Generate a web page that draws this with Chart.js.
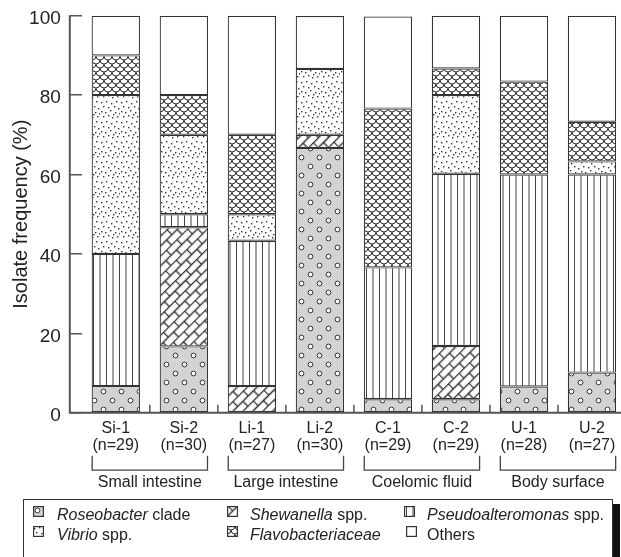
<!DOCTYPE html>
<html>
<head>
<meta charset="utf-8">
<script src="https://cdn.jsdelivr.net/npm/chart.js@4.4.1/dist/chart.umd.min.js"></script>
<style>
  html, body { margin: 0; padding: 0; background: #fff; overflow: hidden; }
  body { position: relative; width: 621px; height: 557px; font-family: "Liberation Sans", Arial, sans-serif; color: #222; }
  #wrap { position: absolute; left: 0; top: 0; width: 626px; height: 557px; }
  #legend { position: absolute; left: 23px; top: 499px; width: 588px; height: 70px; border: 1.5px solid #333; box-shadow: 7px 5px 0 #111; background: #fff; }
  .sw { position: absolute; width: 10px; height: 10px; }
  .lt { position: absolute; font-size: 16px; line-height: 20px; white-space: nowrap; }
</style>
</head>
<body>
<div id="wrap"><canvas id="canvas1"></canvas></div>
<div id="legend"></div>
<script>
var categorias = ["Si-1","Si-2","Li-1","Li-2","C-1","C-2","U-1","U-2"];
var muestras = [29,30,27,30,29,29,28,27];
var grupos = ["Small intestine","Large intestine","Coelomic fluid","Body surface"];
var yTicks = [0,20,40,60,80,100];

// % por categoria, de abajo hacia arriba
var roseobacter = [6.7, 16.7, 0, 66.7, 3.4, 3.4, 6.6, 10.1];
var shewanella = [0, 30.0, 6.7, 3.3, 0, 13.4, 0, 0];
var pseudoalt = [33.3, 3.3, 36.6, 0, 33.2, 43.4, 53.4, 49.9];
var vibrio = [40.0, 20.0, 6.7, 16.6, 0, 19.8, 0, 3.3];
var flavo = [10.0, 10.0, 20.0, 0, 40.0, 6.7, 23.4, 10.0];
var otros = [10.0, 20.0, 30.0, 13.3, 23.2, 13.3, 16.6, 26.7];

var LINEA = "#333";

function tile(w, h, dibujar)
{
    var c = document.createElement("canvas");
    c.width = w; c.height = h;
    var g = c.getContext("2d");
    dibujar(g, w, h);
    return c;
}

function patronRoseo(ctx)
{
    var t = tile(18, 18, function(g){
        g.fillStyle = "#d3d3d3";
        g.fillRect(0, 0, 18, 18);
        g.strokeStyle = LINEA;
        g.lineWidth = 1;
        [[4.5,4.5],[13.5,13.5]].forEach(function(p){
            g.beginPath();
            g.arc(p[0], p[1], 2.4, 0, Math.PI*2);
            g.fillStyle = "#fafafa";
            g.fill();
            g.stroke();
        });
    });
    return ctx.createPattern(t, "repeat");
}

function patronVibrio(ctx)
{
    var puntos = [[1,2],[6,1],[11,3],[16,1],[3,6],[8,7],[14,6],[18,8],[1,11],[5,12],[10,10],[15,12],[3,16],[8,15],[12,17],[17,16],[19,13],[13,14]];
    var t = tile(20, 20, function(g){
        g.fillStyle = "#fff";
        g.fillRect(0, 0, 20, 20);
        g.fillStyle = "#333";
        puntos.forEach(function(p){ g.fillRect(p[0], p[1], 1.4, 1.4); });
    });
    return ctx.createPattern(t, "repeat");
}

function patronShewanella(ctx)
{
    var t = tile(15, 14, function(g){
        g.fillStyle = "#fff";
        g.fillRect(0, 0, 15, 14);
        g.strokeStyle = LINEA;
        g.lineWidth = 1.4;
        g.beginPath();
        g.moveTo(0, 0.5); g.lineTo(15, 0.5);
        g.moveTo(0, 7.5); g.lineTo(15, 7.5);
        g.moveTo(0.5, 0); g.lineTo(0.5, 7.5);
        g.moveTo(8, 7.5); g.lineTo(8, 14);
        g.stroke();
    });
    var p = ctx.createPattern(t, "repeat");
    p.setTransform(new DOMMatrix().rotateSelf(-45));
    return p;
}

function patronPseudo(ctx)
{
    var t = tile(13, 10, function(g){
        g.fillStyle = "#fff";
        g.fillRect(0, 0, 13, 10);
        g.fillStyle = "#444";
        g.fillRect(2, 0, 1, 10);
        g.fillRect(8.5, 0, 1, 10);
    });
    return ctx.createPattern(t, "repeat");
}

function patronFlavo(ctx)
{
    var t = tile(8, 8, function(g){
        g.fillStyle = "#fff";
        g.fillRect(0, 0, 8, 8);
        g.strokeStyle = LINEA;
        g.lineWidth = 1;
        [[4,0],[0,4],[8,4],[4,8],[0,-4],[8,-4]].forEach(function(c){
            g.beginPath();
            g.arc(c[0], c[1], 4, 0, Math.PI);
            g.stroke();
        });
    });
    return ctx.createPattern(t, "repeat");
}

var ctx = document.getElementById("canvas1").getContext("2d");
var rellenos = {
    roseo: patronRoseo(ctx),
    shew: patronShewanella(ctx),
    pseudo: patronPseudo(ctx),
    vibrio: patronVibrio(ctx),
    flavo: patronFlavo(ctx),
    otros: "#ffffff"
};

var series = [
    {label: "Roseobacter clade", data: roseobacter, fill: rellenos.roseo},
    {label: "Shewanella spp.", data: shewanella, fill: rellenos.shew},
    {label: "Pseudoalteromonas spp.", data: pseudoalt, fill: rellenos.pseudo},
    {label: "Vibrio spp.", data: vibrio, fill: rellenos.vibrio},
    {label: "Flavobacteriaceae", data: flavo, fill: rellenos.flavo},
    {label: "Others", data: otros, fill: rellenos.otros}
];

var datasets = series.map(function(s){
    return {
        label: s.label,
        data: s.data,
        backgroundColor: s.fill,
        borderColor: LINEA,
        borderWidth: 1.2,
        borderSkipped: false,
        barPercentage: 0.71,
        categoryPercentage: 1.0
    };
});

// ejes, marcas entre categorias y llaves de grupo
var ejesPlugin = {
    id: "ejes",
    afterDatasetsDraw: function(chart)
    {
        var c = chart.ctx;
        var area = chart.chartArea;
        var x = chart.scales.x;
        var y = chart.scales.y;
        var y0 = y.getPixelForValue(0);
        var y100 = y.getPixelForValue(100);
        var ejeX = area.left - 12;
        c.save();
        c.strokeStyle = "#555";
        c.lineWidth = 2;
        c.beginPath();
        c.moveTo(ejeX, y100 - 0.5);
        c.lineTo(ejeX, y0);
        c.lineTo(area.right + 10, y0);
        c.stroke();
        c.lineWidth = 1.5;
        c.beginPath();
        for (var i = 0; i < categorias.length - 1; i++)
        {
            var bx = (x.getPixelForValue(i) + x.getPixelForValue(i + 1)) / 2;
            c.moveTo(bx, y0);
            c.lineTo(bx, y0 - 8);
        }
        c.stroke();

        var barras = chart.getDatasetMeta(0).data;
        c.strokeStyle = "#444";
        c.lineWidth = 1.3;
        c.fillStyle = "#222";
        c.font = "16px 'Liberation Sans', Arial, sans-serif";
        c.textAlign = "center";
        c.textBaseline = "middle";
        for (var g = 0; g < grupos.length; g++)
        {
            var b1 = barras[g*2], b2 = barras[g*2 + 1];
            var xa = b1.x - b1.width/2 + 0.5;
            var xb = b2.x + b2.width/2 - 0.5;
            c.beginPath();
            c.moveTo(xa, y0 + 43);
            c.lineTo(xa, y0 + 57.5);
            c.lineTo(xb, y0 + 57.5);
            c.lineTo(xb, y0 + 43);
            c.stroke();
            c.fillText(grupos[g], (b1.x + b2.x)/2, y0 + 69.5);
        }
        c.restore();
    }
};

new Chart(ctx, {
    type: "bar",
    data: {
        labels: categorias.map(function(c, i){ return [c, "(n=" + muestras[i] + ")"]; }),
        datasets: datasets
    },
    options: {
        animation: false,
        responsive: true,
        maintainAspectRatio: false,
        layout: { padding: { top: 15.7, right: 0, bottom: 0, left: 0 } },
        plugins: { legend: { display: false }, tooltip: { enabled: false } },
        scales: {
            x: {
                stacked: true,
                grid: { display: false, drawTicks: false },
                border: { display: false },
                ticks: {
                    color: "#222",
                    font: { family: "'Liberation Sans', Arial, sans-serif", size: 16, lineHeight: 1.07 },
                    padding: 7,
                    maxRotation: 0,
                    autoSkip: false
                },
                afterFit: function(s){
                    s.height = 144.3;
                    s.paddingLeft = 0; s.paddingRight = 0;
                }
            },
            y: {
                stacked: true,
                min: 0,
                max: 100,
                afterBuildTicks: function(s){ s.ticks = yTicks.map(function(v){ return {value: v}; }); },
                grid: { display: true, drawOnChartArea: false, drawTicks: true, tickLength: 12, color: "#555", lineWidth: 1.5 },
                border: { display: false },
                ticks: {
                    color: "#222",
                    font: { family: "'Liberation Sans', Arial, sans-serif", size: 19 },
                    padding: 9,
                    labelOffset: 3
                },
                title: {
                    display: true,
                    text: "Isolate frequency (%)",
                    color: "#222",
                    font: { family: "'Liberation Sans', Arial, sans-serif", size: 20 },
                    padding: { top: 9, bottom: 0 }
                },
                afterFit: function(s){
                    s.width = 81.8;
                    s.paddingTop = 0; s.paddingBottom = 0;
                }
            }
        }
    },
    plugins: [ejesPlugin]
});

// leyenda con texto en cursiva parcial
var leyenda = [
    {fill: rellenos.roseo, html: "<i>Roseobacter</i> clade", sx: 33, tx: 57, row: 0},
    {fill: rellenos.vibrio, html: "<i>Vibrio</i> spp.", sx: 33, tx: 57, row: 1},
    {fill: rellenos.shew, html: "<i>Shewanella</i> spp.", sx: 227, tx: 250, row: 0},
    {fill: rellenos.flavo, html: "<i>Flavobacteriaceae</i>", sx: 227, tx: 250, row: 1},
    {fill: rellenos.pseudo, html: "<i>Pseudoalteromonas</i> spp.", sx: 404, tx: 427, row: 0},
    {fill: rellenos.otros, html: "Others", sx: 406, tx: 427, row: 1}
];
leyenda.forEach(function(it){
    var centro = it.row === 0 ? 515 : 535;
    var sw = document.createElement("canvas");
    sw.width = 11; sw.height = 11;
    sw.className = "sw";
    sw.style.width = "11px"; sw.style.height = "11px";
    sw.style.left = it.sx + "px";
    sw.style.top = (centro - 9) + "px";
    var g = sw.getContext("2d");
    g.fillStyle = it.fill;
    g.fillRect(0, 0, 11, 11);
    g.strokeStyle = LINEA;
    g.lineWidth = 1.2;
    g.strokeRect(0.6, 0.6, 9.8, 9.8);
    document.body.appendChild(sw);
    var t = document.createElement("div");
    t.className = "lt";
    t.innerHTML = it.html;
    t.style.left = it.tx + "px";
    t.style.top = (centro - 10) + "px";
    document.body.appendChild(t);
});
</script>
</body>
</html>
